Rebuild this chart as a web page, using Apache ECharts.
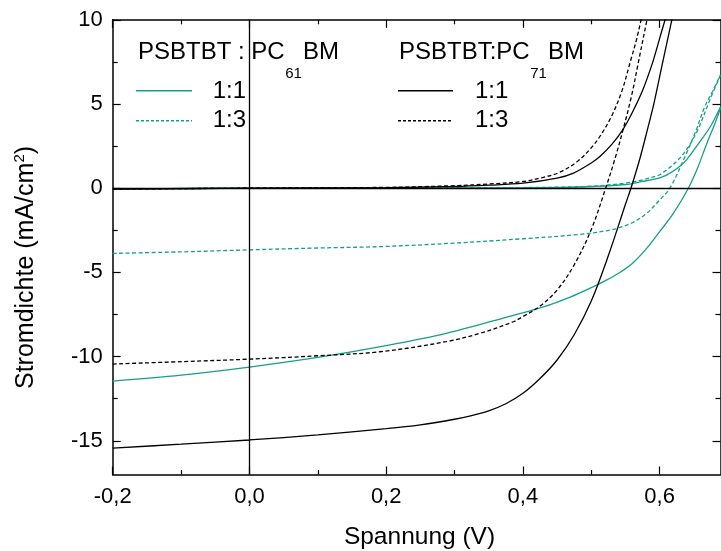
<!DOCTYPE html>
<html>
<head>
<meta charset="utf-8">
<script src="https://cdn.jsdelivr.net/npm/echarts@6/dist/echarts.min.js"></script>
<style>
  html, body { margin: 0; padding: 0; background: #fff; }
  #chart { width: 721px; height: 551px; }
</style>
</head>
<body>
<div id="chart"></div>
<script>
// J–V characteristics of PSBTBT:PCBM solar cells (voltage in V, current density in mA/cm²)

// axis ticks
const xTicks = [-0.2, 0, 0.2, 0.4, 0.6];
const xMinorTicks = [-0.1, 0.1, 0.3, 0.5];
const yTicks = [-15, -10, -5, 0, 5, 10];
const yMinorTicks = [-12.5, -7.5, -2.5, 2.5, 7.5];

// PSBTBT:PC61BM 1:1, illuminated
const pc61r11LightV = [-0.2, -0.1, 0, 0.1, 0.2, 0.288, 0.386, 0.43, 0.47, 0.5, 0.52, 0.54, 0.56, 0.58, 0.6, 0.62, 0.642, 0.655, 0.669, 0.68, 0.689];
const pc61r11LightJ = [-11.45, -11.1, -10.62, -10.05, -9.35, -8.62, -7.55, -7.05, -6.45, -5.9, -5.5, -5.05, -4.47, -3.62, -2.58, -1.5, 0, 1.15, 2.66, 3.75, 4.75];
// PSBTBT:PC61BM 1:1, dark
const pc61r11DarkV = [-0.2, 0, 0.2, 0.4, 0.45, 0.5, 0.55, 0.575, 0.6, 0.61, 0.625, 0.639, 0.655, 0.674, 0.689];
const pc61r11DarkJ = [-0.05, 0, 0.01, 0.03, 0.05, 0.1, 0.22, 0.4, 0.62, 0.78, 1.15, 1.67, 2.55, 3.65, 4.84];

// PSBTBT:PC61BM 1:3, illuminated
const pc61r13LightV = [-0.2, -0.1, 0, 0.1, 0.191, 0.3, 0.4, 0.483, 0.532, 0.56, 0.581, 0.6, 0.615, 0.637, 0.652, 0.666, 0.678, 0.689];
const pc61r13LightJ = [-3.87, -3.78, -3.66, -3.55, -3.47, -3.26, -3.0, -2.74, -2.44, -2.05, -1.49, -0.7, 0, 1.87, 3.3, 4.84, 5.8, 6.72];
// PSBTBT:PC61BM 1:3, dark
const pc61r13DarkV = [-0.2, 0, 0.2, 0.4, 0.45, 0.5, 0.55, 0.575, 0.6, 0.61, 0.625, 0.639, 0.655, 0.674, 0.689];
const pc61r13DarkJ = [-0.05, 0, 0.01, 0.04, 0.06, 0.12, 0.3, 0.5, 0.8, 1.08, 1.6, 2.27, 3.4, 5.3, 6.72];

// PSBTBT:PC71BM 1:1, illuminated
const pc71r11LightV = [-0.2, -0.1, 0, 0.1, 0.2, 0.25, 0.3, 0.325, 0.35, 0.375, 0.4, 0.425, 0.45, 0.475, 0.5, 0.525, 0.55, 0.558, 0.57, 0.581, 0.592, 0.603, 0.612, 0.62, 0.63];
const pc71r11LightJ = [-15.43, -15.2, -14.95, -14.65, -14.28, -14.05, -13.72, -13.5, -13.22, -12.8, -12.18, -11.3, -10.2, -8.7, -6.7, -4.0, -0.95, 0, 1.6, 3.3, 5.1, 7.2, 8.9, 10.4, 12.3];
// PSBTBT:PC71BM 1:1, dark
const pc71r11DarkV = [-0.2, 0, 0.2, 0.3, 0.35, 0.4, 0.45, 0.474, 0.5, 0.513, 0.53, 0.545, 0.56, 0.575, 0.59, 0.6, 0.61, 0.62];
const pc71r11DarkJ = [-0.05, 0, 0.04, 0.1, 0.18, 0.3, 0.6, 0.9, 1.5, 1.9, 2.6, 3.4, 4.5, 5.8, 7.5, 8.9, 10.3, 11.8];

// PSBTBT:PC71BM 1:3, illuminated
const pc71r13LightV = [-0.2, -0.1, 0, 0.1, 0.191, 0.288, 0.337, 0.386, 0.4, 0.425, 0.45, 0.475, 0.5, 0.521, 0.535, 0.547, 0.559, 0.569, 0.582, 0.59];
const pc71r13LightJ = [-10.44, -10.3, -10.15, -9.95, -9.71, -9.11, -8.62, -7.93, -7.62, -7.0, -6.05, -4.55, -2.45, 0, 1.8, 3.55, 5.5, 7.5, 10.1, 11.6];
// PSBTBT:PC71BM 1:3, dark
const pc71r13DarkV = [-0.2, 0, 0.2, 0.3, 0.35, 0.4, 0.43, 0.454, 0.48, 0.5, 0.513, 0.53, 0.545, 0.557, 0.566, 0.574, 0.58];
const pc71r13DarkJ = [-0.05, 0, 0.05, 0.15, 0.25, 0.4, 0.65, 0.95, 1.6, 2.4, 3.1, 4.3, 5.8, 7.5, 8.8, 10.2, 11.3];

const TEAL = '#14a088';
const BLACK = '#000000';
const FONT = '"Liberation Sans", Arial, sans-serif';
const X_MIN = -0.2, X_MAX = 0.689, Y_MIN = -17, Y_MAX = 10;

const pair = (xs, ys) => xs.map((x, i) => [x, ys[i]]);

function curve(name, xs, ys, color, dashed) {
  return {
    name: name,
    type: 'line',
    data: pair(xs, ys),
    showSymbol: false,
    smooth: 0.35,
    clip: true,
    silent: true,
    lineStyle: { color: color, width: 1.3, type: dashed ? [4, 2.5] : 'solid' },
    z: 3
  };
}

function xAxisDef(position, ticks, tickLen, withLine, withLabels) {
  return {
    type: 'value', position: position, min: X_MIN, max: X_MAX,
    splitLine: { show: false },
    axisLine: { show: withLine, onZero: false, lineStyle: { color: BLACK, width: 1.5 } },
    axisTick: { show: true, inside: true, length: tickLen, customValues: ticks, lineStyle: { color: BLACK, width: 1.2 } },
    axisLabel: withLabels ? {
      show: true, customValues: ticks, margin: 11, color: BLACK, fontSize: 22, fontFamily: FONT,
      formatter: v => v.toFixed(1).replace('.', ',')
    } : { show: false }
  };
}

function yAxisDef(position, ticks, tickLen, withLine, withLabels) {
  return {
    type: 'value', position: position, min: Y_MIN, max: Y_MAX,
    splitLine: { show: false },
    axisLine: { show: withLine, onZero: false, lineStyle: { color: BLACK, width: 1.5 } },
    axisTick: { show: true, inside: true, length: tickLen, customValues: ticks, lineStyle: { color: BLACK, width: 1.2 } },
    axisLabel: withLabels ? {
      show: true, customValues: ticks, margin: 10, color: BLACK, fontSize: 22, fontFamily: FONT,
      formatter: v => String(v)
    } : { show: false }
  };
}

// text width helper for composing sub/superscripts
const measureCtx = document.createElement('canvas').getContext('2d');
function textWidth(str, size) {
  measureCtx.font = size + 'px ' + FONT;
  return measureCtx.measureText(str).width;
}

function txt(x, y, str, size, align) {
  return {
    type: 'text', x: x, y: y, silent: true,
    style: { text: str, fill: BLACK, fontSize: size, fontFamily: FONT, align: align || 'left', verticalAlign: 'middle' }
  };
}

// legend heading "PSBTBT : PC" + subscript + "BM"
function heading(x, y, pre, sub) {
  const w1 = textWidth(pre, 24);
  const w2 = textWidth(sub, 15);
  return [
    txt(x, y, pre, 24),
    txt(x + w1 + 0.5, y + 21, sub, 15),
    txt(x + w1 + w2 + 1.5, y, 'BM', 24)
  ];
}

function legendLine(x1, x2, y, color, dashed) {
  return {
    type: 'line', silent: true,
    shape: { x1: x1, y1: y, x2: x2, y2: y },
    style: { stroke: color, lineWidth: 1.4, lineDash: dashed ? [3, 2] : null }
  };
}

// y-axis title with superscript, rotated to read bottom-to-top
function yTitle(cx, cy) {
  const a = 'Stromdichte (mA/cm', b = '2', c = ')';
  const wa = textWidth(a, 25), wb = textWidth(b, 15), wc = textWidth(c, 25);
  const start = -(wa + wb + wc) / 2;
  return {
    type: 'group', x: cx, y: cy, rotation: Math.PI / 2, silent: true,
    children: [
      txt(start, 0, a, 25),
      txt(start + wa, -6, b, 15),
      txt(start + wa + wb, 0, c, 25)
    ]
  };
}

const chart = echarts.init(document.getElementById('chart'), null, { renderer: 'canvas' });

const series = [
  curve('PC61BM 1:1', pc61r11LightV, pc61r11LightJ, TEAL, false),
  curve('PC61BM 1:1 dunkel', pc61r11DarkV, pc61r11DarkJ, TEAL, false),
  curve('PC61BM 1:3', pc61r13LightV, pc61r13LightJ, TEAL, true),
  curve('PC61BM 1:3 dunkel', pc61r13DarkV, pc61r13DarkJ, TEAL, true),
  curve('PC71BM 1:1', pc71r11LightV, pc71r11LightJ, BLACK, false),
  curve('PC71BM 1:1 dunkel', pc71r11DarkV, pc71r11DarkJ, BLACK, false),
  curve('PC71BM 1:3', pc71r13LightV, pc71r13LightJ, BLACK, true),
  curve('PC71BM 1:3 dunkel', pc71r13DarkV, pc71r13DarkJ, BLACK, true)
];

// zero reference lines through the origin
series[0].markLine = {
  silent: true, symbol: ['none', 'none'], animation: false,
  label: { show: false },
  lineStyle: { color: BLACK, width: 1.3, type: 'solid' },
  emphasis: { disabled: true },
  data: [{ yAxis: 0 }, { xAxis: 0 }]
};

chart.setOption({
  animation: false,
  backgroundColor: '#ffffff',
  grid: { left: 112.7, right: 0.5, top: 19.8, bottom: 76.5, containLabel: false, outerBoundsMode: 'none' },
  xAxis: [
    xAxisDef('bottom', xTicks, 8, true, true),
    xAxisDef('bottom', xMinorTicks, 4.5, false, false),
    xAxisDef('top', xTicks, 8, true, false),
    xAxisDef('top', xMinorTicks, 4.5, false, false)
  ],
  yAxis: [
    yAxisDef('left', yTicks, 8, true, true),
    yAxisDef('left', yMinorTicks, 5, false, false),
    yAxisDef('right', yTicks, 8, true, false),
    yAxisDef('right', yMinorTicks, 5, false, false)
  ],
  series: series,
  graphic: [
    ...heading(138, 52.5, 'PSBTBT : PC', '61'),
    legendLine(136, 192, 90.7, TEAL, false),
    txt(246, 91.5, '1:1', 24, 'right'),
    legendLine(136, 192, 120.7, TEAL, true),
    txt(246, 120.5, '1:3', 24, 'right'),
    ...heading(399, 52.5, 'PSBTBT:PC', '71'),
    legendLine(398, 453, 90.7, BLACK, false),
    txt(475, 91.5, '1:1', 24),
    legendLine(398, 453, 120.7, BLACK, true),
    txt(475, 120.5, '1:3', 24),
    txt(419.5, 537, 'Spannung (V)', 24.5, 'center'),
    yTitle(26, 267.5)
  ]
});
</script>
</body>
</html>
